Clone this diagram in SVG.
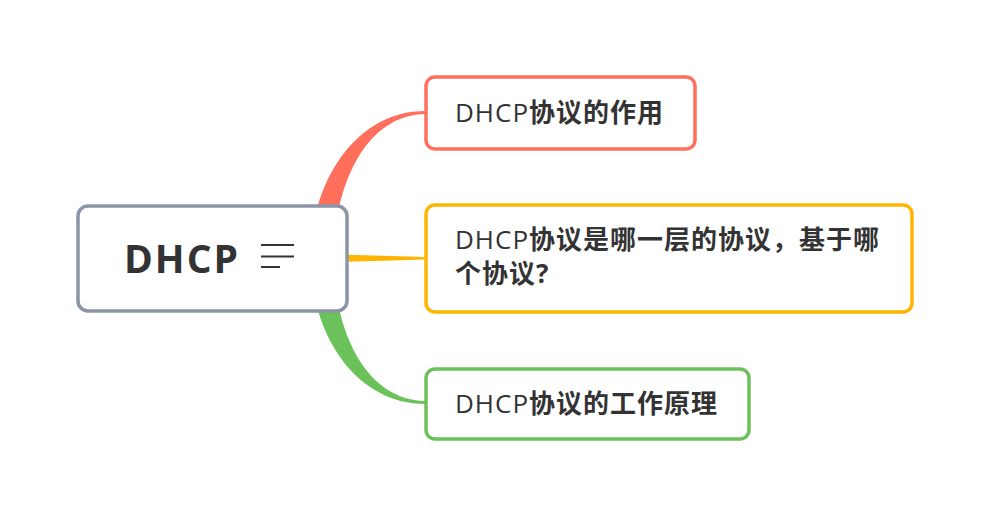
<svg xmlns="http://www.w3.org/2000/svg" width="987" height="516" viewBox="0 0 987 516">
<style>
.box{fill:#fff;stroke-width:3.5}
.t{font-family:"Open Sans","Noto Sans","Noto Sans CJK SC",sans-serif;font-size:26px;fill:#333}
.c{font-weight:bold}
</style>
<rect width="987" height="516" fill="#fff"/>
<g id="connectors">
<path d="M310,258 C312,175 360,111 425,111 L425,114 C368,115 335,180 333,258 Z" fill="#ff6f5b"/>
<path d="M310,258 C312,341 360,404 425,404 L425,401 C368,400 335,336 333,258 Z" fill="#6cc25a"/>
<path d="M340,254.5 L425,257 L425,259.5 L340,262 Z" fill="#ffb400"/>
</g>
<g id="center">
<rect class="box" x="78" y="206" width="269" height="105" rx="10" stroke="#8a95a5"/>
<text x="124" y="273" font-family="'Open Sans','Noto Sans',sans-serif" font-size="39" font-weight="bold" fill="#333" letter-spacing="2">DHCP</text>
<g stroke="#333" stroke-width="2">
<line x1="261" y1="245" x2="294" y2="245"/>
<line x1="261" y1="256.5" x2="294" y2="256.5"/>
<line x1="261" y1="267" x2="280" y2="267"/>
</g>
</g>
<g id="n1">
<rect class="box" x="426" y="77" width="269" height="72" rx="9" stroke="#ff6f5b"/>
<text class="t" x="455" y="122" letter-spacing="1"><tspan>DHCP</tspan><tspan class="c">协议的作用</tspan></text>
</g>
<g id="n2">
<rect class="box" x="426" y="205" width="486" height="107" rx="9" stroke="#ffb400"/>
<text class="t" x="455" y="249" letter-spacing="1"><tspan>DHCP</tspan><tspan class="c">协议是哪一层的协议，基于哪</tspan></text>
<text class="t c" x="455" y="283" letter-spacing="1">个协议?</text>
</g>
<g id="n3">
<rect class="box" x="426" y="369" width="323" height="70" rx="9" stroke="#6cc25a"/>
<text class="t" x="455" y="413" letter-spacing="1"><tspan>DHCP</tspan><tspan class="c">协议的工作原理</tspan></text>
</g>
</svg>
